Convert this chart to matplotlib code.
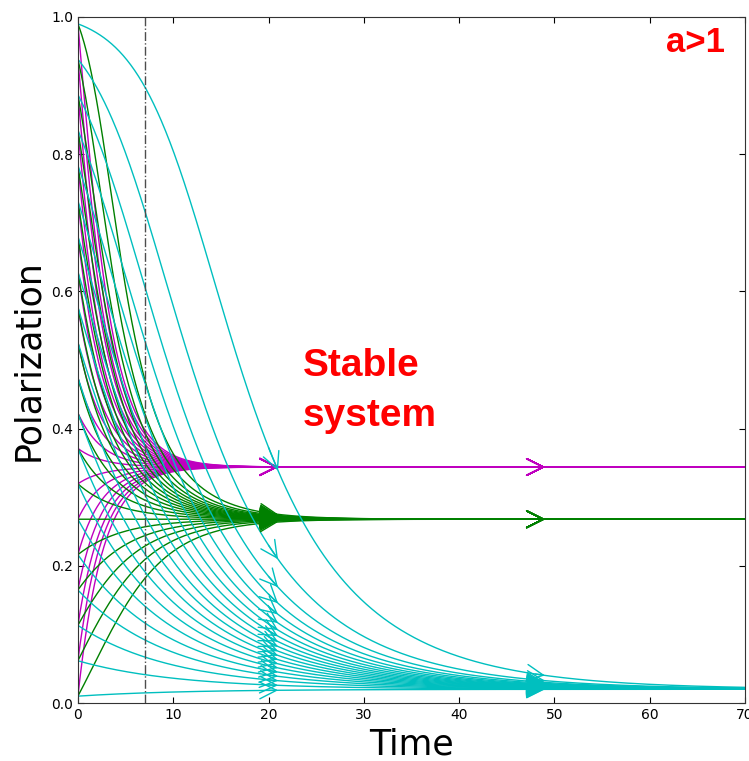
import numpy as np
import matplotlib
matplotlib.use('Agg')
import matplotlib.pyplot as plt

# Initial polarization values (same set for every family of curves)
p0_values = [0.01, 0.0616, 0.1132, 0.1647, 0.2163, 0.2679, 0.3195, 0.3711, 0.4226, 0.4742,
             0.5258, 0.5774, 0.6289, 0.6805, 0.7321, 0.7837, 0.8353, 0.8868, 0.9384, 0.99]

# Three families, each relaxing to its own stable point:
# dP/dt = -k (P - p_star) (P + a) (1 - P + b)
family_colors = ['m', 'g', 'c']
fixed_points = [0.344, 0.2679, 0.02]
rates = [0.25, 0.75, 0.18]
shape_a = [1.0, 0.12, 0.5]
shape_b = [0.5, 0.05, 0.01]

t_max = 70
arrow_times = [20, 48]
marker_time = 7

t = np.linspace(0, t_max, 1401)
dt = t[1] - t[0]


def rhs(P, k, p, a, b):
    return -k * (P - p) * (P + a) * (1 - P + b)


def integrate(P0, k, p, a, b):
    # simple RK4, all initial values at once
    P = np.zeros((len(t), len(P0)))
    P[0] = P0
    for i in range(len(t) - 1):
        y = P[i]
        k1 = rhs(y, k, p, a, b)
        k2 = rhs(y + 0.5 * dt * k1, k, p, a, b)
        k3 = rhs(y + 0.5 * dt * k2, k, p, a, b)
        k4 = rhs(y + dt * k3, k, p, a, b)
        P[i + 1] = y + dt / 6 * (k1 + 2 * k2 + 2 * k3 + k4)
    return P


fig = plt.figure(figsize=(7.49, 7.61), dpi=100, facecolor='white')
ax = fig.add_axes([0.104, 0.0762, 0.8907, 0.9015])

for c, p, k, a, b in zip(family_colors, fixed_points, rates, shape_a, shape_b):
    P = integrate(np.array(p0_values), k, p, a, b)
    for n in range(P.shape[1]):
        ax.plot(t, P[:, n], color=c, lw=1)
        # arrow heads along each trajectory
        for ta in arrow_times:
            i = np.argmin(abs(t - ta))
            j = np.argmin(abs(t - (ta + 1)))
            ax.annotate('', xy=(t[j], P[j, n]), xytext=(t[i], P[i, n]),
                        arrowprops=dict(arrowstyle='->,head_length=0.6,head_width=0.3',
                                        color=c, lw=1, shrinkA=0, shrinkB=0,
                                        mutation_scale=20))

ax.axvline(marker_time, color='0.3', lw=1, ls='-.')

ax.set_xlim(0, t_max)
ax.set_ylim(0, 1.0)
ax.set_xticks(range(0, 71, 10))
ax.set_yticks(np.arange(0, 1.01, 0.2))
ax.tick_params(direction='in', top=True, right=True, length=4, labelsize=10)
for s in ax.spines.values():
    s.set_color('0.2')
ax.set_xlabel('Time', fontsize=25)
ax.set_ylabel('Polarization', fontsize=25)

ax.text(23.6, 0.517, 'Stable\nsystem', color='red', fontsize=28, fontweight='bold',
        family='Liberation Sans', ha='left', va='top', linespacing=1.5)
ax.text(67.9, 0.949, 'a>1', color='red', fontsize=25, fontweight='bold',
        family='Liberation Sans', ha='right', va='baseline')

plt.savefig('out.png', dpi=100, facecolor='white')
